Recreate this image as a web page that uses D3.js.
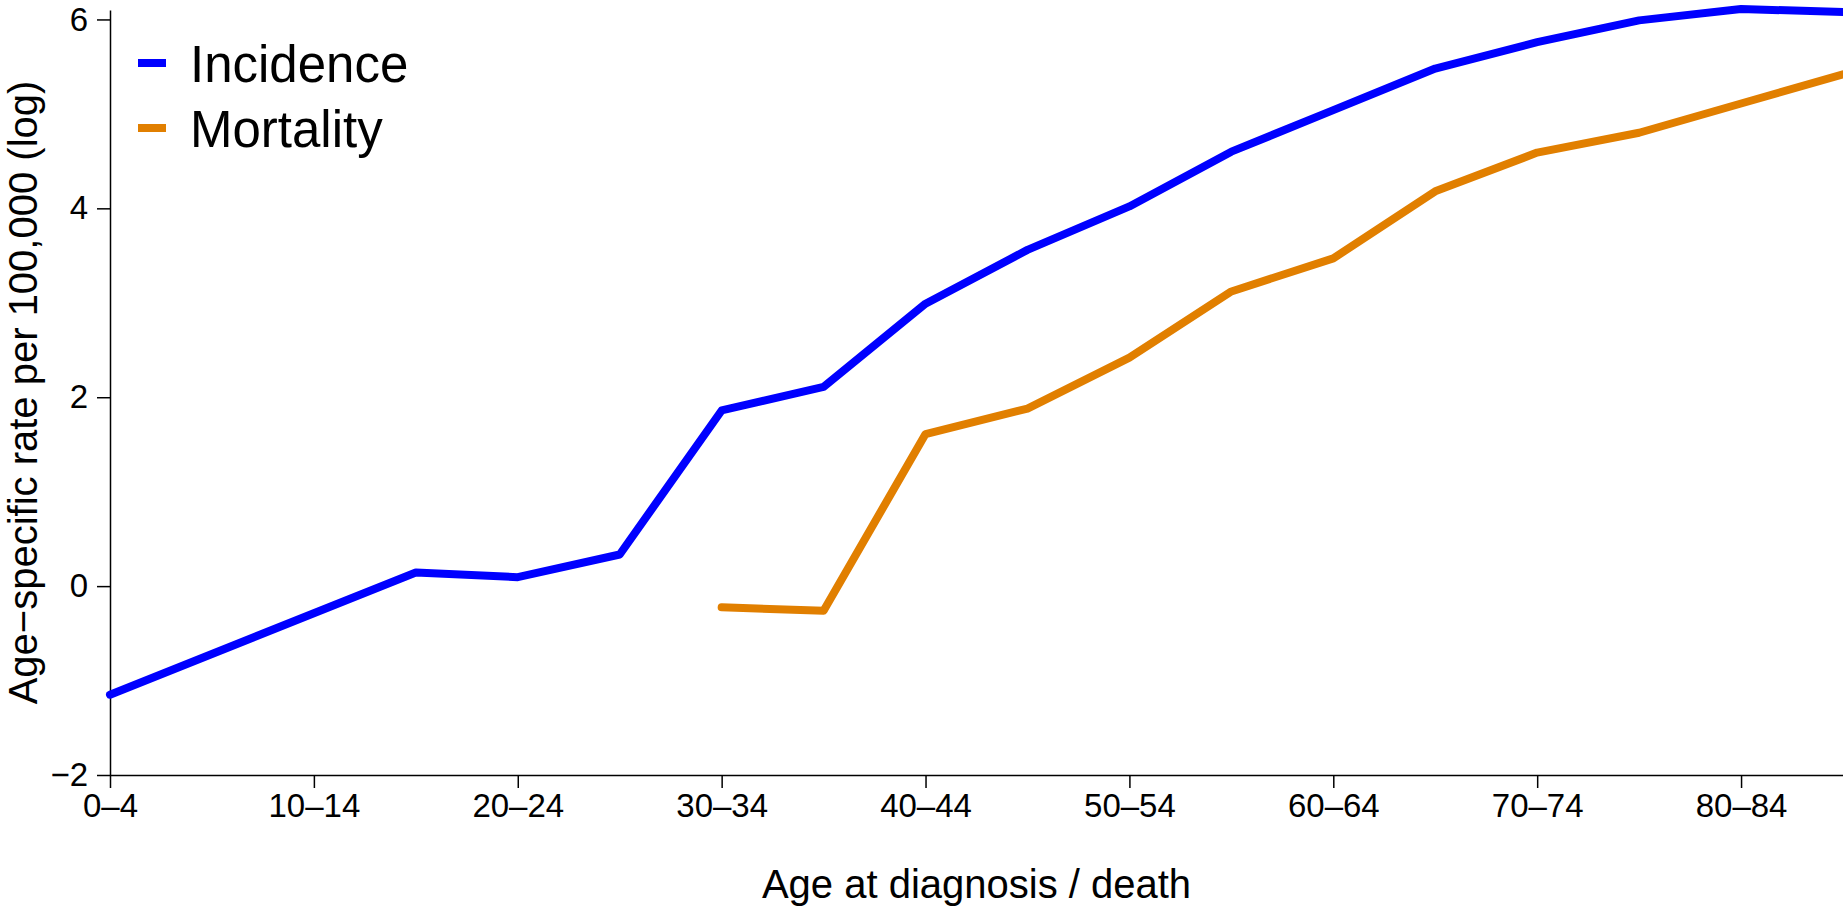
<!DOCTYPE html>
<html>
<head>
<meta charset="utf-8">
<script src="https://cdn.jsdelivr.net/npm/d3@7"></script>
<style>
  html, body { margin: 0; padding: 0; background: #fff; }
  svg { display: block; font-family: "Liberation Sans", Arial, sans-serif; }
</style>
</head>
<body>
<svg id="chart" width="1843" height="914"></svg>
<script>
// Age groups (categories)
const ageGroups = ["0–4","5–9","10–14","15–19","20–24","25–29","30–34","35–39","40–44","45–49",
                   "50–54","55–59","60–64","65–69","70–74","75–79","80–84","85+"];
// Tick labels shown on x axis
const xTickLabels = ["0–4","10–14","20–24","30–34","40–44","50–54","60–64","70–74","80–84"];
// Log age-specific rates (null = no data)
const incidence = [-1.15, null, null, 0.145, 0.095, 0.335, 1.86, 2.11, 2.99, 3.56,
                   4.02, 4.60, 5.04, 5.48, 5.76, 5.99, 6.11, 6.08];
const mortality = [null, null, null, null, null, null, -0.225, -0.26, 1.61, 1.88,
                   2.42, 3.12, 3.47, 4.18, 4.59, 4.80, 5.11, 5.42];
const yTicks = [-2, 0, 2, 4, 6];
const seriesNames = ["Incidence", "Mortality"];
const seriesColors = ["#0000FF", "#E17F00"];

(function () {
const svg = d3.select("#chart");
const mLeft = 110, mRight = 1843, mTop = 10, mBottom = 775;

const x = d3.scalePoint().domain(ageGroups).range([mLeft, mRight]);
const y = d3.scaleLinear().domain([-2, 6.1]).range([mBottom, mTop]);

// Axes
const xAxis = d3.axisBottom(x).tickValues(xTickLabels).tickSize(13).tickSizeOuter(0).tickPadding(6);
const gx = svg.append("g").attr("transform", `translate(0,${mBottom})`).call(xAxis);
gx.select(".domain").attr("stroke", "#000").attr("stroke-width", 1.5);
gx.selectAll(".tick line").attr("stroke", "#000").attr("stroke-width", 1.5);
gx.selectAll(".tick text").attr("font-size", 33).attr("fill", "#000").attr("dy", "0.71em");

const yAxis = d3.axisLeft(y).tickValues(yTicks).tickSize(13).tickSizeOuter(0).tickPadding(9)
  .tickFormat(d => d < 0 ? "\u2212" + Math.abs(d) : String(d));
const gy = svg.append("g").attr("transform", `translate(${mLeft},0)`).call(yAxis);
gy.select(".domain").attr("stroke", "#000").attr("stroke-width", 1.5);
gy.selectAll(".tick line").attr("stroke", "#000").attr("stroke-width", 1.5);
gy.selectAll(".tick text").attr("font-size", 33).attr("fill", "#000");

// Lines
const line = d3.line()
  .x(d => x(d.a))
  .y(d => y(d.v));

[incidence, mortality].forEach((vals, i) => {
  const data = ageGroups.map((a, j) => ({ a, v: vals[j] })).filter(d => d.v !== null);
  svg.append("path")
    .datum(data)
    .attr("d", line)
    .attr("fill", "none")
    .attr("stroke", seriesColors[i])
    .attr("stroke-width", 8)
    .attr("stroke-linejoin", "round")
    .attr("stroke-linecap", "round");
});

// Axis titles
svg.append("text")
  .attr("x", (mLeft + mRight) / 2).attr("y", 898)
  .attr("text-anchor", "middle").attr("font-size", 40).attr("fill", "#000")
  .text("Age at diagnosis / death");

svg.append("text")
  .attr("transform", `translate(37,${(mTop + mBottom) / 2}) rotate(-90)`)
  .attr("text-anchor", "middle").attr("font-size", 40).attr("fill", "#000")
  .text("Age\u2212specific rate per 100,000 (log)");

// Legend
const leg = svg.append("g");
seriesNames.forEach((name, i) => {
  const yy = 63 + i * 65;
  leg.append("line").attr("x1", 138).attr("x2", 166).attr("y1", yy).attr("y2", yy)
    .attr("stroke", seriesColors[i]).attr("stroke-width", 8);
  leg.append("text").attr("x", 190).attr("y", yy + 19)
    .attr("font-size", 51).attr("fill", "#000").text(name);
});
})();
</script>
</body>
</html>
